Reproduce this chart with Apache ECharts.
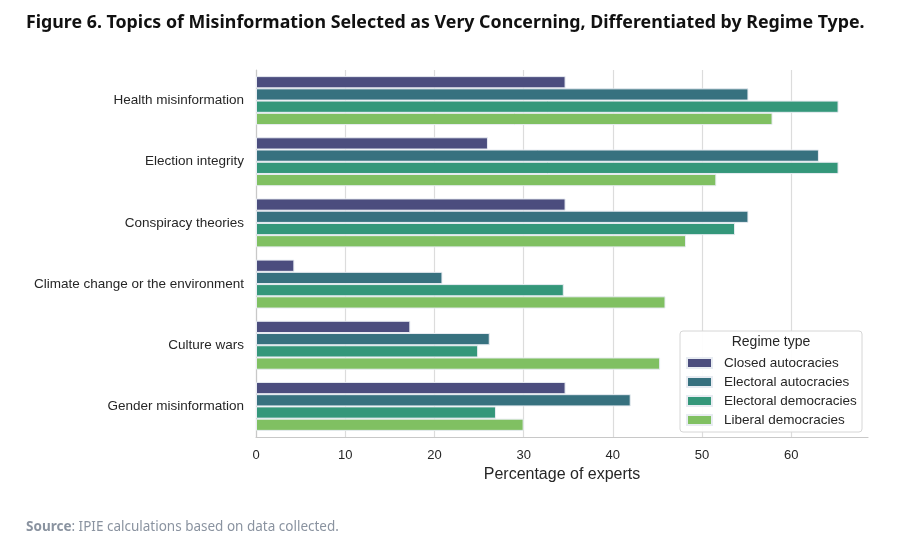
<!DOCTYPE html>
<html>
<head>
<meta charset="utf-8">
<script src="https://cdn.jsdelivr.net/npm/echarts@6/dist/echarts.min.js"></script>
<style>html,body{margin:0;padding:0;background:#fff;}#c{width:900px;height:538px;}</style>
</head>
<body>
<div id="c"></div>
<script>
const categories = ["Health misinformation","Election integrity","Conspiracy theories","Climate change or the environment","Culture wars","Gender misinformation"];
const seriesNames = ["Closed autocracies","Electoral autocracies","Electoral democracies","Liberal democracies"];
const closedAutocracies   = [34.7, 26.0, 34.7, 4.3, 17.3, 34.7];
const electoralAutocracies = [55.2, 63.1, 55.2, 20.9, 26.2, 42.0];
const electoralDemocracies = [65.3, 65.3, 53.7, 34.5, 24.9, 26.9];
const liberalDemocracies   = [57.9, 51.6, 48.2, 45.9, 45.3, 30.0];
const xTicks = [0,10,20,30,40,50,60];
const colors = ["#4b4d7e","#37717f","#34977a","#80c062"];

const values = [closedAutocracies, electoralAutocracies, electoralDemocracies, liberalDemocracies];
const chart = echarts.init(document.getElementById('c'));
const font = "Liberation Sans, Arial, sans-serif";
const gridColors = xTicks.map(()=>'#dcdcdc').concat(['rgba(0,0,0,0)']);
chart.setOption({
  animation:false,
  backgroundColor:'#fff',
  grid:{left:256,right:32,top:70,bottom:101},
  xAxis:{type:'value',min:0,max:68.6,interval:10,
    name:'Percentage of experts',nameLocation:'middle',nameGap:28,
    nameTextStyle:{fontFamily:font,fontSize:16,color:'#262626'},
    axisLabel:{fontFamily:font,fontSize:13,color:'#262626',margin:12,
      formatter:v=> xTicks.includes(v)?String(v):''},
    axisLine:{show:true,lineStyle:{color:'#c8c8c8',width:1.2}},
    axisTick:{show:false},
    splitLine:{show:true,lineStyle:{color:gridColors,width:1.2}}},
  yAxis:{type:'category',data:categories,inverse:true,
    axisLabel:{fontFamily:font,fontSize:13.5,color:'#262626',margin:12},
    axisLine:{show:true,lineStyle:{color:'#c8c8c8',width:1.2}},
    axisTick:{show:false},splitLine:{show:false}},
  legend:{orient:'vertical',left:681,top:351,itemWidth:25,itemHeight:10,itemGap:5,z:30,
    icon:'rect',textStyle:{fontFamily:font,fontSize:13.5,color:'#262626',padding:[0,0,0,7]},
    data:seriesNames},
  graphic:[
    {type:'rect',z:20,shape:{x:680,y:331,width:182,height:101,r:3},
     style:{fill:'rgba(255,255,255,0.92)',stroke:'#d6d6d6',lineWidth:1}},
    {type:'text',z:21,x:771,y:342,style:{text:'Regime type',fontFamily:font,fontSize:14,fill:'#262626',textAlign:'center',textVerticalAlign:'middle'}},
    {type:'text',x:26,y:23,style:{text:'Figure 6. Topics of Misinformation Selected as Very Concerning, Differentiated by Regime Type.',
      fontFamily:'Noto Sans',fontWeight:'bold',fontSize:17.8,fill:'#111',textVerticalAlign:'middle'}},
    {type:'text',x:26,y:527,style:{text:'{b|Source}: IPIE calculations based on data collected.',
      fontFamily:'Noto Sans',fontSize:13.5,fill:'#8a93a0',textVerticalAlign:'middle',
      rich:{b:{fontWeight:'bold',fontFamily:'Noto Sans',fontSize:13.5,fill:'#8a93a0'}}}}
  ],
  series: seriesNames.map((n,i)=>({
    name:n,type:'bar',data:values[i],barGap:'0%',barCategoryGap:'20%',
    itemStyle:{color:colors[i],borderColor:'#e8ecf2',borderWidth:1}
  }))
});
</script>
</body>
</html>
